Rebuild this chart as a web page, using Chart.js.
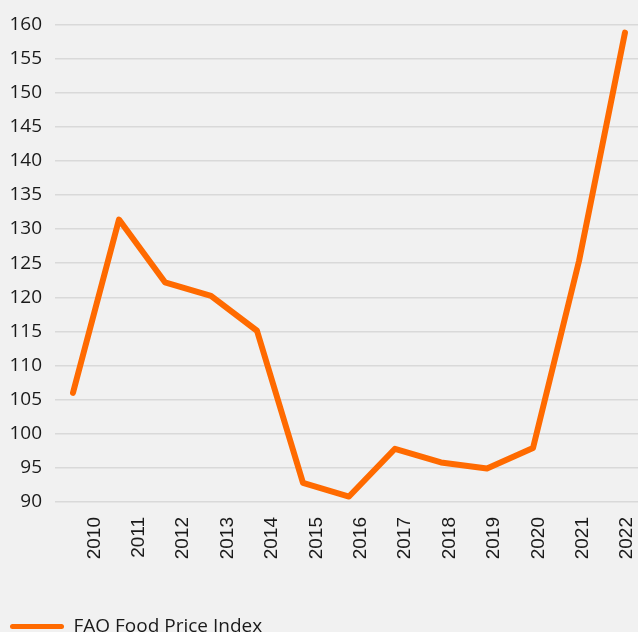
<!DOCTYPE html>
<html>
<head>
<meta charset="utf-8">
<script src="https://cdn.jsdelivr.net/npm/chart.js@4"></script>
<style>
  html, body { margin: 0; padding: 0; background: #f1f1f1; overflow: hidden; }
  #wrap { width: 638px; height: 646px; }
</style>
</head>
<body>
<div id="wrap"><canvas id="c" width="638" height="646"></canvas></div>
<script>
const years = ['2010','2011','2012','2013','2014','2015','2016','2017','2018','2019','2020','2021','2022'];
const foodPriceIndex = [106.0, 131.4, 122.2, 120.2, 115.1, 92.8, 90.8, 97.8, 95.8, 94.9, 97.9, 125.3, 158.8];
const seriesName = 'FAO Food Price Index';
const yTicks = [90, 95, 100, 105, 110, 115, 120, 125, 130, 135, 140, 145, 150, 155, 160];

const bgPlugin = {
  id: 'bg',
  beforeDraw(chart) {
    const ctx = chart.ctx;
    ctx.save();
    ctx.fillStyle = '#f1f1f1';
    ctx.fillRect(0, 0, chart.width, chart.height);
    ctx.restore();
  }
};

new Chart(document.getElementById('c'), {
  type: 'line',
  data: {
    datasets: [{
      label: seriesName,
      data: foodPriceIndex.map((v, i) => ({ x: i, y: v })),
      borderColor: '#ff6a00',
      backgroundColor: '#ff6a00',
      borderWidth: 6,
      borderCapStyle: 'round',
      borderJoinStyle: 'round',
      pointRadius: 0,
      tension: 0,
      xAxisID: 'x'
    }]
  },
  options: {
    responsive: false,
    animation: false,
    layout: { padding: { top: 22, right: 0, left: 0, bottom: 0 } },
    scales: {
      x: {
        type: 'linear',
        min: -0.391,
        max: 12.283,
        display: false
      },
      xl: {
        type: 'linear',
        position: 'bottom',
        min: -0.887,
        max: 12.244,
        grid: { display: false, drawTicks: false },
        border: { display: false },
        afterBuildTicks(scale) {
          scale.ticks = years.map((y, i) => ({ value: i }));
        },
        afterFit(scale) {
          scale.height = 105;
          scale.paddingLeft = 0;
          scale.paddingRight = 0;
        },
        ticks: {
          autoSkip: false,
          minRotation: 90,
          maxRotation: 90,
          padding: 15,
          color: '#1a1a1a',
          font: { family: '"Liberation Sans", Arial, sans-serif', size: 19 },
          callback: (v, i) => years[i]
        }
      },
      y: {
        min: 90,
        max: 160,
        afterBuildTicks(scale) {
          scale.ticks = yTicks.map(v => ({ value: v }));
        },
        afterFit(scale) { scale.width = 55; },
        grid: { color: '#d9d9d9', lineWidth: 1.5, drawTicks: false },
        border: { display: false },
        ticks: {
          padding: 13,
          color: '#1a1a1a',
          font: { family: '"Open Sans", sans-serif', size: 19 }
        }
      }
    },
    plugins: {
      tooltip: { enabled: false },
      legend: {
        display: true,
        position: 'bottom',
        align: 'start',
        labels: {
          boxWidth: 54,
          boxHeight: 5,
          useBorderRadius: true,
          borderRadius: 2.5,
          color: '#1a1a1a',
          font: { family: '"Open Sans", sans-serif', size: 19 },
          generateLabels(chart) {
            const items = Chart.defaults.plugins.legend.labels.generateLabels(chart);
            items.forEach(it => { it.lineWidth = 0; it.fillStyle = '#ff6a00'; it.strokeStyle = '#ff6a00'; });
            return items;
          }
        }
      }
    }
  },
  plugins: [bgPlugin]
});
</script>
</body>
</html>
